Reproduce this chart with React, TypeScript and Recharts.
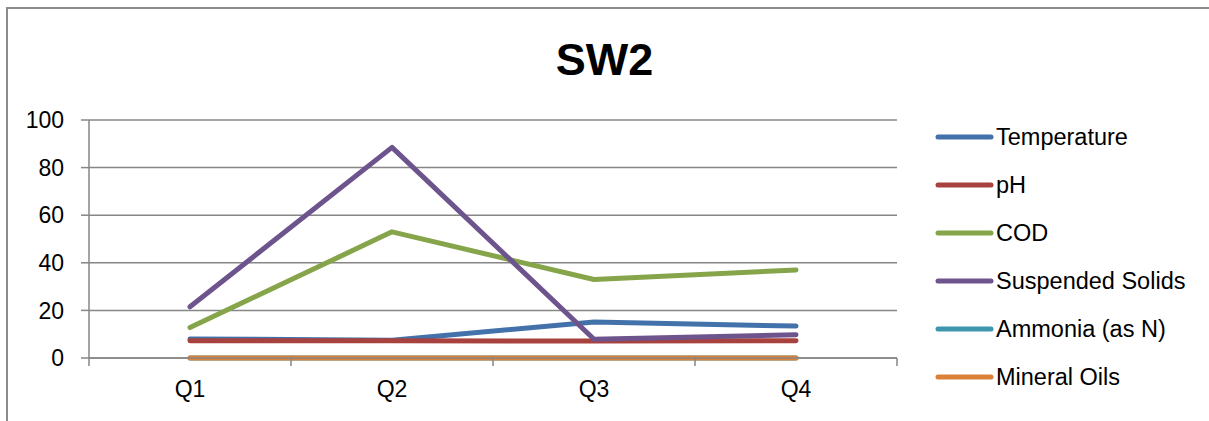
import { CartesianGrid, Line, LineChart, XAxis, YAxis } from "recharts";

// --- Data ---

const quarters = ["Q1", "Q2", "Q3", "Q4"];
const temperature = [8, 7.5, 15.1, 13.4];
const ph = [7.3, 7.2, 7.1, 7.3];
const cod = [12.8, 53, 33, 37];
const suspendedSolids = [21.5, 88.5, 7.9, 9.8];
const ammonia = [0, 0, 0, 0];
const mineralOils = [0, 0, 0, 0];
const yTicks = [0, 20, 40, 60, 80, 100];

const series = [
  { key: "temperature", name: "Temperature", color: "#4372AA", values: temperature },
  { key: "ph", name: "pH", color: "#A8423F", values: ph },
  { key: "cod", name: "COD", color: "#86A44A", values: cod },
  { key: "ss", name: "Suspended Solids", color: "#6E548D", values: suspendedSolids },
  { key: "ammonia", name: "Ammonia (as N)", color: "#3D96AE", values: ammonia },
  { key: "oils", name: "Mineral Oils", color: "#DA8137", values: mineralOils },
];

const data = quarters.map((q, i) => {
  const row: Record<string, any> = { q };
  series.forEach((s) => (row[s.key] = s.values[i]));
  return row;
});

const FONT = '"Liberation Sans", Arial, sans-serif';
const GRID = "#868686";
const LINE_W = 5;

// x ticks: label in the middle of the category, tick mark on the boundaries
const QuarterTick = (props: any) => {
  const { x, y, payload, index, width, visibleTicksCount } = props;
  const half = width / visibleTicksCount / 2;
  const last = index === visibleTicksCount - 1;
  return (
    <g>
      <line x1={x - half} x2={x - half} y1={y} y2={y + 8} stroke={GRID} strokeWidth={1.5} />
      {last && (
        <line x1={x + half} x2={x + half} y1={y} y2={y + 8} stroke={GRID} strokeWidth={1.5} />
      )}
      <text
        x={x}
        y={y + 31}
        textAnchor="middle"
        dominantBaseline="central"
        fill="#000"
        fontSize={23}
        fontFamily={FONT}
      >
        {payload.value}
      </text>
    </g>
  );
};

// legend kept outside the chart so it doesn't eat into the plot width
const ChartLegend = () => (
  <div style={{ position: "absolute", left: 934, top: 113, width: 275 }}>
    {series.map((s) => (
      <div key={s.key} style={{ height: 48, display: "flex", alignItems: "center" }}>
        <svg width={62} height={10}>
          <line
            x1={4}
            x2={57}
            y1={5}
            y2={5}
            stroke={s.color}
            strokeWidth={LINE_W}
            strokeLinecap="round"
          />
        </svg>
        <span style={{ fontSize: 23.5, fontFamily: FONT, color: "#000" }}>{s.name}</span>
      </div>
    ))}
  </div>
);

export default function App() {
  return (
    <div
      style={{
        position: "absolute",
        left: 0,
        top: 0,
        width: 1209,
        height: 421,
        overflow: "hidden",
        background: "#fff",
      }}
    >
      <div
        style={{
          position: "absolute",
          left: 6,
          top: 7,
          width: 1300,
          height: 500,
          border: "2px solid #8c8c8c",
        }}
      />
      <div
        style={{
          position: "absolute",
          left: 0,
          top: 37,
          width: 1209,
          textAlign: "center",
          fontFamily: FONT,
          fontWeight: "bold",
          fontSize: 45,
          lineHeight: "45px",
        }}
      >
        SW2
      </div>
      <LineChart
        width={1209}
        height={421}
        data={data}
        margin={{ top: 120, right: 312, left: 0, bottom: 13 }}
        style={{ position: "absolute", left: 0, top: 0 }}
      >
        <CartesianGrid vertical={false} stroke={GRID} strokeWidth={1.5} />
        <XAxis
          dataKey="q"
          height={50}
          padding={{ left: 101, right: 101 }}
          axisLine={{ stroke: GRID, strokeWidth: 1.5 }}
          tickLine={false}
          tickSize={0}
          tickMargin={0}
          tick={<QuarterTick />}
        />
        <YAxis
          width={89}
          domain={[0, 100]}
          ticks={yTicks}
          axisLine={{ stroke: GRID, strokeWidth: 1.5 }}
          tickLine={{ stroke: GRID, strokeWidth: 1.5 }}
          tickSize={8}
          tickMargin={17}
          tick={{ fill: "#000", fontSize: 23, fontFamily: FONT }}
        />
        {series.map((s) => (
          <Line
            key={s.key}
            dataKey={s.key}
            name={s.name}
            stroke={s.color}
            strokeWidth={LINE_W}
            strokeLinecap="round"
            strokeLinejoin="round"
            dot={false}
            activeDot={false}
            isAnimationActive={false}
          />
        ))}
      </LineChart>
      <ChartLegend />
    </div>
  );
}
